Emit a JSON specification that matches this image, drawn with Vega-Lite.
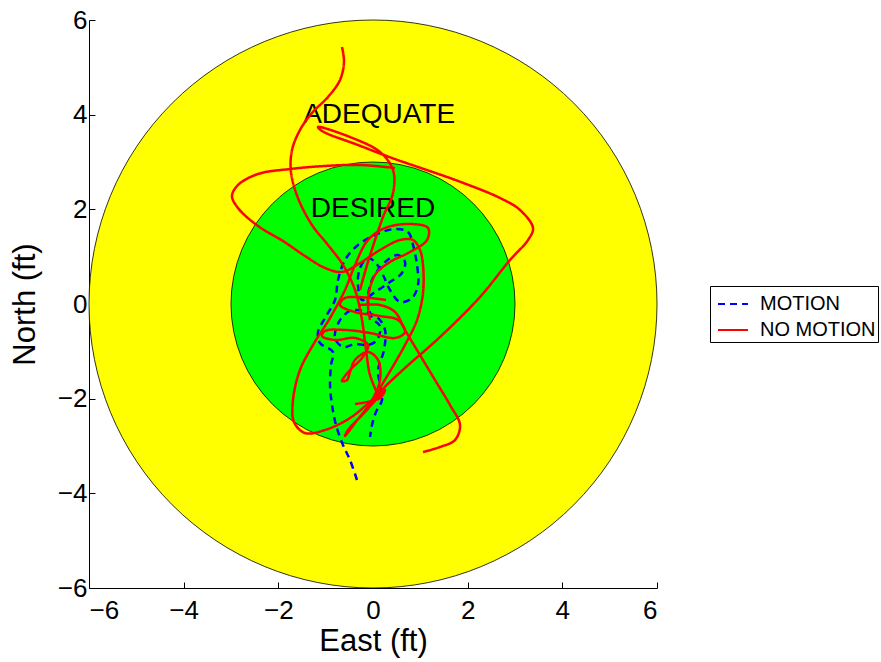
{
  "$schema": "https://vega.github.io/schema/vega-lite/v6.json",
  "width": 568,
  "height": 568,
  "autosize": {"type": "none"},
  "padding": {"left": 89, "top": 20, "right": 224, "bottom": 74},
  "background": "white",
  "config": {
    "view": {"stroke": null},
    "font": "Liberation Sans",
    "axis": {
      "grid": false,
      "zindex": 1,
      "domainColor": "black",
      "domainWidth": 1,
      "tickColor": "black",
      "tickSize": -6,
      "tickWidth": 1,
      "labelColor": "black",
      "labelFont": "Liberation Sans",
      "labelFontSize": 26,
      "titleFont": "Liberation Sans",
      "titleFontSize": 31,
      "titleFontWeight": "normal",
      "titleColor": "black"
    }
  },
  "datasets": {
    "zones": [
      {"zone": "ADEQUATE", "r": 6},
      {"zone": "DESIRED", "r": 3}
    ],
    "labels": [
      {"label": "ADEQUATE", "east": 0.13, "north": 4.0},
      {"label": "DESIRED", "east": 0.0, "north": 2.0}
    ],
    "traj": [
      {"series": "MOTION", "run": "B1", "i": 0, "east": -0.338, "north": -3.718},
      {"series": "MOTION", "run": "B1", "i": 1, "east": -0.486, "north": -3.296},
      {"series": "MOTION", "run": "B1", "i": 2, "east": -0.634, "north": -2.979},
      {"series": "MOTION", "run": "B1", "i": 3, "east": -0.782, "north": -2.556},
      {"series": "MOTION", "run": "B1", "i": 4, "east": -0.866, "north": -2.134},
      {"series": "MOTION", "run": "B1", "i": 5, "east": -0.908, "north": -1.711},
      {"series": "MOTION", "run": "B1", "i": 6, "east": -0.887, "north": -1.289},
      {"series": "MOTION", "run": "B1", "i": 7, "east": -0.845, "north": -1.014},
      {"series": "MOTION", "run": "B1", "i": 8, "east": -1.120, "north": -0.824},
      {"series": "MOTION", "run": "B1", "i": 9, "east": -1.162, "north": -0.592},
      {"series": "MOTION", "run": "B1", "i": 10, "east": -1.014, "north": -0.296},
      {"series": "MOTION", "run": "B1", "i": 11, "east": -0.803, "north": 0.085},
      {"series": "MOTION", "run": "B1", "i": 12, "east": -0.739, "north": 0.507},
      {"series": "MOTION", "run": "B1", "i": 13, "east": -0.592, "north": 0.930},
      {"series": "MOTION", "run": "B1", "i": 14, "east": -0.317, "north": 1.247},
      {"series": "MOTION", "run": "B1", "i": 15, "east": 0.042, "north": 1.458},
      {"series": "MOTION", "run": "B1", "i": 16, "east": 0.465, "north": 1.585},
      {"series": "MOTION", "run": "B1", "i": 17, "east": 0.739, "north": 1.521},
      {"series": "MOTION", "run": "B1", "i": 18, "east": 0.845, "north": 1.247},
      {"series": "MOTION", "run": "B1", "i": 19, "east": 0.930, "north": 0.824},
      {"series": "MOTION", "run": "B1", "i": 20, "east": 0.951, "north": 0.401},
      {"series": "MOTION", "run": "B1", "i": 21, "east": 0.824, "north": 0.127},
      {"series": "MOTION", "run": "B1", "i": 22, "east": 0.570, "north": 0.042},
      {"series": "MOTION", "run": "B1", "i": 23, "east": 0.359, "north": 0.296},
      {"series": "MOTION", "run": "B1", "i": 24, "east": 0.211, "north": 0.613},
      {"series": "MOTION", "run": "B1", "i": 25, "east": 0.042, "north": 0.887},
      {"series": "MOTION", "run": "B1", "i": 26, "east": -0.106, "north": 0.972},
      {"series": "MOTION", "run": "B1", "i": 27, "east": -0.275, "north": 0.761},
      {"series": "MOTION", "run": "B1", "i": 28, "east": -0.317, "north": 0.401},
      {"series": "MOTION", "run": "B1", "i": 29, "east": -0.232, "north": 0.085},
      {"series": "MOTION", "run": "B1", "i": 30, "east": 0.042, "north": 0.254},
      {"series": "MOTION", "run": "B1", "i": 31, "east": 0.359, "north": 0.465},
      {"series": "MOTION", "run": "B1", "i": 32, "east": 0.613, "north": 0.655},
      {"series": "MOTION", "run": "B1", "i": 33, "east": 0.676, "north": 0.887},
      {"series": "MOTION", "run": "B1", "i": 34, "east": 0.528, "north": 1.035},
      {"series": "MOTION", "run": "B1", "i": 35, "east": 0.254, "north": 0.887},
      {"series": "MOTION", "run": "B1", "i": 36, "east": -0.021, "north": 0.507},
      {"series": "MOTION", "run": "B1", "i": 37, "east": -0.106, "north": 0.085},
      {"series": "MOTION", "run": "B1", "i": 38, "east": -0.021, "north": -0.296},
      {"series": "MOTION", "run": "B1", "i": 39, "east": 0.148, "north": -0.465},
      {"series": "MOTION", "run": "B1", "i": 40, "east": 0.085, "north": -0.761},
      {"series": "MOTION", "run": "B1", "i": 41, "east": -0.106, "north": -0.866},
      {"series": "MOTION", "run": "B1", "i": 42, "east": -0.380, "north": -0.845},
      {"series": "MOTION", "run": "B1", "i": 43, "east": -0.634, "north": -0.908},
      {"series": "MOTION", "run": "B1", "i": 44, "east": -0.803, "north": -0.718},
      {"series": "MOTION", "run": "B1", "i": 45, "east": -0.697, "north": -0.338},
      {"series": "MOTION", "run": "B1", "i": 46, "east": -0.444, "north": -0.127},
      {"series": "MOTION", "run": "B1", "i": 47, "east": -0.169, "north": -0.169},
      {"series": "MOTION", "run": "B1", "i": 48, "east": 0.106, "north": -0.296},
      {"series": "MOTION", "run": "B1", "i": 49, "east": 0.254, "north": -0.549},
      {"series": "MOTION", "run": "B1", "i": 50, "east": 0.232, "north": -0.972},
      {"series": "MOTION", "run": "B1", "i": 51, "east": 0.106, "north": -1.394},
      {"series": "MOTION", "run": "B1", "i": 52, "east": 0.148, "north": -1.711},
      {"series": "MOTION", "run": "B1", "i": 53, "east": 0.190, "north": -2.028},
      {"series": "MOTION", "run": "B1", "i": 54, "east": 0.063, "north": -2.282},
      {"series": "MOTION", "run": "B1", "i": 55, "east": -0.021, "north": -2.556},
      {"series": "MOTION", "run": "B1", "i": 56, "east": -0.063, "north": -2.810},

      {"series": "NO MOTION", "run": "R1", "i": 0, "east": -0.655, "north": 5.430},
      {"series": "NO MOTION", "run": "R1", "i": 1, "east": -0.613, "north": 5.113},
      {"series": "NO MOTION", "run": "R1", "i": 2, "east": -0.697, "north": 4.733},
      {"series": "NO MOTION", "run": "R1", "i": 3, "east": -0.951, "north": 4.374},
      {"series": "NO MOTION", "run": "R1", "i": 4, "east": -1.289, "north": 4.036},
      {"series": "NO MOTION", "run": "R1", "i": 5, "east": -1.542, "north": 3.677},
      {"series": "NO MOTION", "run": "R1", "i": 6, "east": -1.711, "north": 3.254},
      {"series": "NO MOTION", "run": "R1", "i": 7, "east": -1.733, "north": 2.789},
      {"series": "NO MOTION", "run": "R1", "i": 8, "east": -1.585, "north": 2.240},
      {"series": "NO MOTION", "run": "R1", "i": 9, "east": -1.289, "north": 1.669},
      {"series": "NO MOTION", "run": "R1", "i": 10, "east": -0.951, "north": 1.247},
      {"series": "NO MOTION", "run": "R1", "i": 11, "east": -0.634, "north": 0.824},
      {"series": "NO MOTION", "run": "R1", "i": 12, "east": -0.380, "north": 0.296},
      {"series": "NO MOTION", "run": "R1", "i": 13, "east": -0.232, "north": -0.338},
      {"series": "NO MOTION", "run": "R1", "i": 14, "east": -0.148, "north": -0.972},
      {"series": "NO MOTION", "run": "R1", "i": 15, "east": -0.063, "north": -1.500},
      {"series": "NO MOTION", "run": "R1", "i": 16, "east": 0.106, "north": -1.923},

      {"series": "NO MOTION", "run": "R2", "i": 0, "east": -0.275, "north": 0.296},
      {"series": "NO MOTION", "run": "R2", "i": 1, "east": -0.106, "north": 0.887},
      {"series": "NO MOTION", "run": "R2", "i": 2, "east": 0.211, "north": 1.838},
      {"series": "NO MOTION", "run": "R2", "i": 3, "east": 0.423, "north": 2.345},
      {"series": "NO MOTION", "run": "R2", "i": 4, "east": 0.423, "north": 2.831},
      {"series": "NO MOTION", "run": "R2", "i": 5, "east": 0.148, "north": 3.211},
      {"series": "NO MOTION", "run": "R2", "i": 6, "east": -0.486, "north": 3.528},
      {"series": "NO MOTION", "run": "R2", "i": 7, "east": -1.162, "north": 3.740},
      {"series": "NO MOTION", "run": "R2", "i": 8, "east": -1.078, "north": 3.655},
      {"series": "NO MOTION", "run": "R2", "i": 9, "east": -0.317, "north": 3.359},
      {"series": "NO MOTION", "run": "R2", "i": 10, "east": 0.401, "north": 3.085},
      {"series": "NO MOTION", "run": "R2", "i": 11, "east": 1.796, "north": 2.599},
      {"series": "NO MOTION", "run": "R2", "i": 12, "east": 2.683, "north": 2.240},
      {"series": "NO MOTION", "run": "R2", "i": 13, "east": 3.106, "north": 1.986},
      {"series": "NO MOTION", "run": "R2", "i": 14, "east": 3.380, "north": 1.606},
      {"series": "NO MOTION", "run": "R2", "i": 15, "east": 3.275, "north": 1.352},
      {"series": "NO MOTION", "run": "R2", "i": 16, "east": 2.894, "north": 0.930},
      {"series": "NO MOTION", "run": "R2", "i": 17, "east": 2.261, "north": 0.148},
      {"series": "NO MOTION", "run": "R2", "i": 18, "east": 1.416, "north": -0.697},
      {"series": "NO MOTION", "run": "R2", "i": 19, "east": 0.676, "north": -1.352},
      {"series": "NO MOTION", "run": "R2", "i": 20, "east": 0.190, "north": -1.817},
      {"series": "NO MOTION", "run": "R2", "i": 21, "east": -0.063, "north": -2.134},

      {"series": "NO MOTION", "run": "R3", "i": 0, "east": 0.465, "north": 2.873},
      {"series": "NO MOTION", "run": "R3", "i": 1, "east": -0.275, "north": 2.937},
      {"series": "NO MOTION", "run": "R3", "i": 2, "east": -1.014, "north": 2.916},
      {"series": "NO MOTION", "run": "R3", "i": 3, "east": -1.754, "north": 2.852},
      {"series": "NO MOTION", "run": "R3", "i": 4, "east": -2.430, "north": 2.747},
      {"series": "NO MOTION", "run": "R3", "i": 5, "east": -2.852, "north": 2.514},
      {"series": "NO MOTION", "run": "R3", "i": 6, "east": -2.979, "north": 2.282},
      {"series": "NO MOTION", "run": "R3", "i": 7, "east": -2.852, "north": 2.028},
      {"series": "NO MOTION", "run": "R3", "i": 8, "east": -2.430, "north": 1.648},
      {"series": "NO MOTION", "run": "R3", "i": 9, "east": -1.902, "north": 1.331},
      {"series": "NO MOTION", "run": "R3", "i": 10, "east": -1.437, "north": 1.014},
      {"series": "NO MOTION", "run": "R3", "i": 11, "east": -1.014, "north": 0.761},
      {"series": "NO MOTION", "run": "R3", "i": 12, "east": -0.655, "north": 0.676},
      {"series": "NO MOTION", "run": "R3", "i": 13, "east": -0.275, "north": 0.866},
      {"series": "NO MOTION", "run": "R3", "i": 14, "east": 0.148, "north": 1.141},
      {"series": "NO MOTION", "run": "R3", "i": 15, "east": 0.570, "north": 1.352},
      {"series": "NO MOTION", "run": "R3", "i": 16, "east": 0.845, "north": 1.352},
      {"series": "NO MOTION", "run": "R3", "i": 17, "east": 0.993, "north": 1.141},
      {"series": "NO MOTION", "run": "R3", "i": 18, "east": 1.056, "north": 0.824},
      {"series": "NO MOTION", "run": "R3", "i": 19, "east": 1.056, "north": 0.232},
      {"series": "NO MOTION", "run": "R3", "i": 20, "east": 0.930, "north": -0.338},
      {"series": "NO MOTION", "run": "R3", "i": 21, "east": 0.676, "north": -0.866},
      {"series": "NO MOTION", "run": "R3", "i": 22, "east": 0.401, "north": -1.352},
      {"series": "NO MOTION", "run": "R3", "i": 23, "east": 0.148, "north": -1.775},
      {"series": "NO MOTION", "run": "R3", "i": 24, "east": -0.021, "north": -2.071},

      {"series": "NO MOTION", "run": "R4", "i": 0, "east": -0.021, "north": -2.028},
      {"series": "NO MOTION", "run": "R4", "i": 1, "east": -0.486, "north": -2.409},
      {"series": "NO MOTION", "run": "R4", "i": 2, "east": -1.014, "north": -2.662},
      {"series": "NO MOTION", "run": "R4", "i": 3, "east": -1.437, "north": -2.726},
      {"series": "NO MOTION", "run": "R4", "i": 4, "east": -1.669, "north": -2.493},
      {"series": "NO MOTION", "run": "R4", "i": 5, "east": -1.690, "north": -2.028},
      {"series": "NO MOTION", "run": "R4", "i": 6, "east": -1.542, "north": -1.394},
      {"series": "NO MOTION", "run": "R4", "i": 7, "east": -1.268, "north": -0.866},
      {"series": "NO MOTION", "run": "R4", "i": 8, "east": -0.908, "north": -0.296},
      {"series": "NO MOTION", "run": "R4", "i": 9, "east": -0.592, "north": 0.296},
      {"series": "NO MOTION", "run": "R4", "i": 10, "east": -0.380, "north": 0.824},
      {"series": "NO MOTION", "run": "R4", "i": 11, "east": -0.106, "north": 1.352},
      {"series": "NO MOTION", "run": "R4", "i": 12, "east": 0.254, "north": 1.606},
      {"series": "NO MOTION", "run": "R4", "i": 13, "east": 0.782, "north": 1.690},
      {"series": "NO MOTION", "run": "R4", "i": 14, "east": 1.162, "north": 1.606},
      {"series": "NO MOTION", "run": "R4", "i": 15, "east": 1.141, "north": 1.352},
      {"series": "NO MOTION", "run": "R4", "i": 16, "east": 0.782, "north": 1.099},
      {"series": "NO MOTION", "run": "R4", "i": 17, "east": 0.359, "north": 0.887},
      {"series": "NO MOTION", "run": "R4", "i": 18, "east": 0.042, "north": 0.613},
      {"series": "NO MOTION", "run": "R4", "i": 19, "east": -0.106, "north": 0.085},
      {"series": "NO MOTION", "run": "R4", "i": 20, "east": -0.063, "north": -0.338},

      {"series": "NO MOTION", "run": "R5", "i": 0, "east": -0.275, "north": -0.021},
      {"series": "NO MOTION", "run": "R5", "i": 1, "east": 0.148, "north": -0.021},
      {"series": "NO MOTION", "run": "R5", "i": 2, "east": 0.465, "north": -0.169},
      {"series": "NO MOTION", "run": "R5", "i": 3, "east": 0.676, "north": -0.549},
      {"series": "NO MOTION", "run": "R5", "i": 4, "east": 0.993, "north": -1.078},
      {"series": "NO MOTION", "run": "R5", "i": 5, "east": 1.310, "north": -1.606},
      {"series": "NO MOTION", "run": "R5", "i": 6, "east": 1.627, "north": -2.134},
      {"series": "NO MOTION", "run": "R5", "i": 7, "east": 1.838, "north": -2.556},
      {"series": "NO MOTION", "run": "R5", "i": 8, "east": 1.733, "north": -2.873},
      {"series": "NO MOTION", "run": "R5", "i": 9, "east": 1.416, "north": -3.021},
      {"series": "NO MOTION", "run": "R5", "i": 10, "east": 1.056, "north": -3.127},

      {"series": "NO MOTION", "run": "R6", "i": 0, "east": 0.275, "north": 0.085},
      {"series": "NO MOTION", "run": "R6", "i": 1, "east": -0.592, "north": 0.127},
      {"series": "NO MOTION", "run": "R6", "i": 2, "east": -0.697, "north": -0.021},
      {"series": "NO MOTION", "run": "R6", "i": 3, "east": -0.380, "north": -0.169},
      {"series": "NO MOTION", "run": "R6", "i": 4, "east": 0.148, "north": -0.254},
      {"series": "NO MOTION", "run": "R6", "i": 5, "east": 0.528, "north": -0.338},
      {"series": "NO MOTION", "run": "R6", "i": 6, "east": 0.676, "north": -0.592},
      {"series": "NO MOTION", "run": "R6", "i": 7, "east": 0.465, "north": -0.718},
      {"series": "NO MOTION", "run": "R6", "i": 8, "east": -0.063, "north": -0.613},
      {"series": "NO MOTION", "run": "R6", "i": 9, "east": -0.592, "north": -0.549},
      {"series": "NO MOTION", "run": "R6", "i": 10, "east": -1.014, "north": -0.570},
      {"series": "NO MOTION", "run": "R6", "i": 11, "east": -1.078, "north": -0.676},
      {"series": "NO MOTION", "run": "R6", "i": 12, "east": -0.803, "north": -0.761},
      {"series": "NO MOTION", "run": "R6", "i": 13, "east": -0.380, "north": -0.718},
      {"series": "NO MOTION", "run": "R6", "i": 14, "east": -0.106, "north": -0.866},
      {"series": "NO MOTION", "run": "R6", "i": 15, "east": -0.232, "north": -1.141},
      {"series": "NO MOTION", "run": "R6", "i": 16, "east": -0.444, "north": -1.352},
      {"series": "NO MOTION", "run": "R6", "i": 17, "east": -0.592, "north": -1.521},
      {"series": "NO MOTION", "run": "R6", "i": 18, "east": -0.655, "north": -1.627},
      {"series": "NO MOTION", "run": "R6", "i": 19, "east": -0.549, "north": -1.606},
      {"series": "NO MOTION", "run": "R6", "i": 20, "east": -0.486, "north": -1.437},
      {"series": "NO MOTION", "run": "R6", "i": 21, "east": -0.380, "north": -1.183},
      {"series": "NO MOTION", "run": "R6", "i": 22, "east": -0.106, "north": -1.014},
      {"series": "NO MOTION", "run": "R6", "i": 23, "east": 0.106, "north": -1.183},
      {"series": "NO MOTION", "run": "R6", "i": 24, "east": 0.148, "north": -1.606},
      {"series": "NO MOTION", "run": "R6", "i": 25, "east": -0.021, "north": -2.028},
      {"series": "NO MOTION", "run": "R6", "i": 26, "east": -0.380, "north": -2.514},
      {"series": "NO MOTION", "run": "R6", "i": 27, "east": -0.592, "north": -2.789},
      {"series": "NO MOTION", "run": "R6", "i": 28, "east": -0.528, "north": -2.662},
      {"series": "NO MOTION", "run": "R6", "i": 29, "east": -0.169, "north": -2.282},
      {"series": "NO MOTION", "run": "R6", "i": 30, "east": 0.254, "north": -1.817},
      {"series": "NO MOTION", "run": "R6", "i": 31, "east": 0.148, "north": -1.986},
      {"series": "NO MOTION", "run": "R6", "i": 32, "east": -0.380, "north": -2.113}
    ]
  },
  "layer": [
    {
      "data": {"name": "zones"},
      "mark": {"type": "arc", "theta": 0, "theta2": 6.2832, "stroke": "black", "strokeWidth": 0.8},
      "encoding": {
        "radius": {"field": "r", "type": "quantitative", "stack": null, "scale": {"type": "linear", "domain": [0, 6], "range": [0, 284], "zero": true}},
        "fill": {"field": "zone", "type": "nominal", "scale": {"domain": ["ADEQUATE", "DESIRED"], "range": ["#ffff00", "#00ff00"]}, "legend": null}
      }
    },
    {
      "data": {"name": "labels"},
      "mark": {"type": "text", "font": "Liberation Sans", "fontSize": 28, "color": "black", "baseline": "middle", "align": "center"},
      "encoding": {
        "x": {"field": "east", "type": "quantitative", "scale": {"domain": [-6, 6], "nice": false, "zero": false}},
        "y": {"field": "north", "type": "quantitative", "scale": {"domain": [-6, 6], "nice": false, "zero": false}},
        "text": {"field": "label"}
      }
    },
    {
      "data": {"name": "traj"},
      "mark": {"type": "line", "strokeWidth": 2.5, "interpolate": "catmull-rom"},
      "encoding": {
        "x": {"field": "east", "type": "quantitative", "title": "East (ft)", "scale": {"domain": [-6, 6], "nice": false, "zero": false}, "axis": {"values": [-6, -4, -2, 0, 2, 4, 6], "labelPadding": 15, "titlePadding": 3}},
        "y": {"field": "north", "type": "quantitative", "title": "North (ft)", "scale": {"domain": [-6, 6], "nice": false, "zero": false}, "axis": {"values": [-6, -4, -2, 0, 2, 4, 6], "labelPadding": 8, "titlePadding": 16}},
        "detail": {"field": "run"},
        "order": {"field": "i", "type": "quantitative"},
        "color": {"field": "series", "type": "nominal", "scale": {"domain": ["MOTION", "NO MOTION"], "range": ["#0000ff", "#ff0000"]}, "legend": {"title": null, "orient": "none", "legendX": 621, "legendY": 266, "symbolType": "stroke", "symbolSize": 900, "symbolStrokeWidth": 2, "symbolOffset": 5, "labelFontSize": 20, "labelFont": "Liberation Sans", "labelColor": "black", "strokeColor": "black", "fillColor": "white", "padding": 2, "rowPadding": -6, "labelOffset": 11}},
        "strokeDash": {"field": "series", "type": "nominal", "scale": {"domain": ["MOTION", "NO MOTION"], "range": [[7, 5], [1, 0]]}, "legend": {"title": null, "orient": "none", "legendX": 621, "legendY": 266, "symbolType": "stroke", "symbolSize": 900, "symbolStrokeWidth": 2, "symbolOffset": 5, "labelFontSize": 20, "labelFont": "Liberation Sans", "labelColor": "black", "strokeColor": "black", "fillColor": "white", "padding": 2, "rowPadding": -6, "labelOffset": 11}}
      }
    }
  ]
}
